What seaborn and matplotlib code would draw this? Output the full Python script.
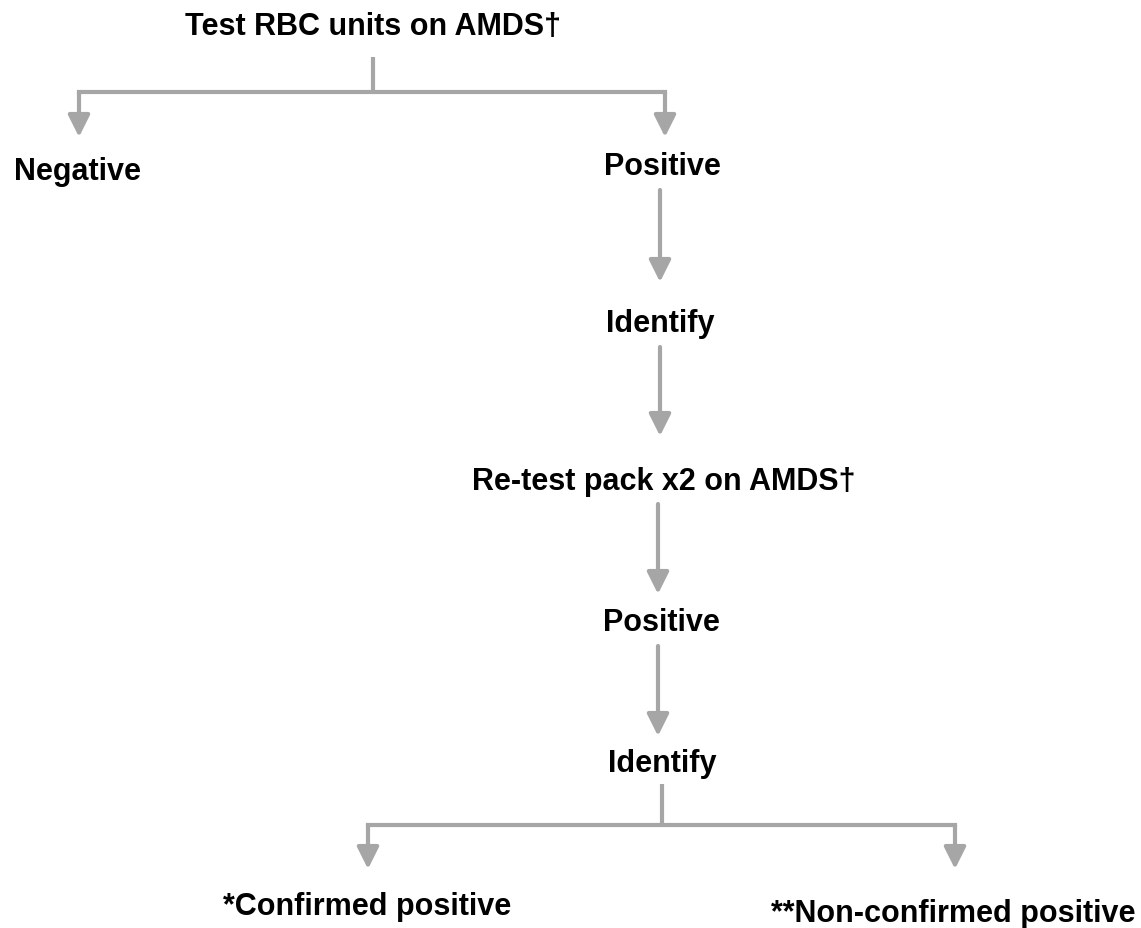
import matplotlib
matplotlib.use("Agg")
import matplotlib.pyplot as plt
import seaborn as sns

# Node labels and their layout (pixel space of a 1141x929 canvas)
labels = ["Test RBC units on AMDS\u2020", "Negative", "Positive", "Identify",
          "Re-test pack x2 on AMDS\u2020", "Positive", "Identify",
          "*Confirmed positive", "**Non-confirmed positive"]
label_x = [373, 77, 662, 660, 664, 661, 662, 367, 953]
label_y = [27, 172, 167, 324, 482, 623, 764, 907, 914]

# Straight arrows (x, y_start, y_end)
arrow_x = [660, 660, 658, 658]
arrow_y0 = [191, 348, 505, 647]
arrow_y1 = [283, 437, 595, 737]

# Branches: (stem_x, stem_top, bar_y, left_x, right_x, tip_y)
branch_stem_x = [373, 662]
branch_stem_top = [58, 785]
branch_bar_y = [93, 826]
branch_left_x = [79, 368]
branch_right_x = [665, 955]
branch_tip_y = [138, 870]

sns.set_theme(style="white")
plt.rcParams['font.family'] = ['Liberation Sans', 'DejaVu Sans']

GRAY = "#a6a6a6"
LW = 3.0

fig = plt.figure(figsize=(11.41, 9.29), dpi=100)
ax = fig.add_axes([0, 0, 1, 1])
ax.set_xlim(0, 1141)
ax.set_ylim(929, 0)
ax.axis("off")

def arrow(x, y0, y1):
    ax.annotate("", xy=(x, y1), xytext=(x, y0),
                arrowprops=dict(arrowstyle="-|>,head_length=0.4,head_width=0.2",
                                mutation_scale=33, lw=LW, color=GRAY,
                                shrinkA=0, shrinkB=0))

for x, y0, y1 in zip(arrow_x, arrow_y0, arrow_y1):
    arrow(x, y0, y1)

for sx, st, by, lx, rx, ty in zip(branch_stem_x, branch_stem_top, branch_bar_y,
                                  branch_left_x, branch_right_x, branch_tip_y):
    ax.plot([sx, sx], [st, by], color=GRAY, lw=LW, solid_capstyle="butt")
    ax.plot([lx, rx], [by, by], color=GRAY, lw=LW, solid_capstyle="projecting")
    arrow(lx, by, ty)
    arrow(rx, by, ty)

for t, x, y in zip(labels, label_x, label_y):
    ax.text(x, y, t, ha="center", va="center", fontsize=22,
            fontweight="bold", color="black")

fig.savefig("out.png", dpi=100, facecolor="white")
